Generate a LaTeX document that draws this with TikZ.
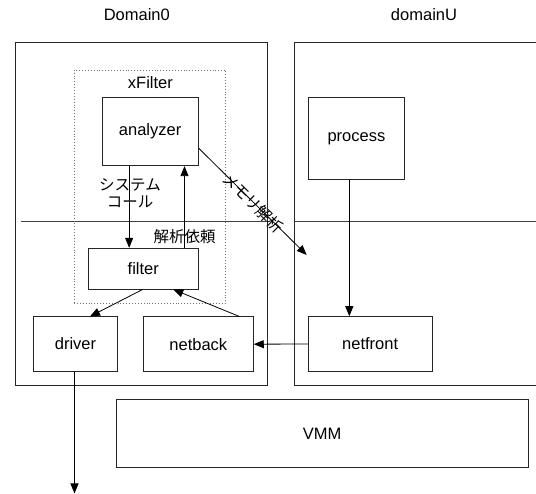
\documentclass[tikz,border=0pt]{standalone}
\usepackage{fontspec}
\setmainfont{Liberation Sans}
\newfontfamily\jp{Noto Sans CJK JP}
\usetikzlibrary{arrows.meta}
\tikzset{
  box/.style={draw=black!85, line width=0.9pt, inner sep=0pt, align=center,
    font=\fontsize{16.5}{18}\selectfont},
  dombox/.style={draw=black!85, line width=0.9pt, inner sep=0pt},
  xfbox/.style={draw=black!55, dotted, line width=0.9pt, inner sep=0pt},
  lbl/.style={inner sep=0pt, font=\fontsize{16.5}{18}\selectfont},
  jlbl/.style={inner sep=0pt, align=center, font=\jp\fontsize{15.5}{16.7}\selectfont},
  arr/.style={draw=black, line width=0.8pt, -{Triangle[length=10pt,width=8pt]}},
  hline/.style={draw=black!75, line width=0.9pt}
}
\begin{document}
\begin{tikzpicture}[x=1pt,y=-1pt]
\useasboundingbox (0,0) rectangle (536,494);
\fill[white] (0,0) rectangle (536,494);

% domains
\node[dombox, minimum width=252pt, minimum height=342.6pt] (dom0) at (141.3,214) {};
\node[dombox, minimum width=265.5pt, minimum height=342.6pt] (domU) at (427.25,214) {};
\node[lbl] (dom0lbl) at (136.8,15) {Domain0};
\node[lbl] (domUlbl) at (424,15) {domainU};

% separator line
\coordinate (hlA) at (20.5,221);
\coordinate (hlB) at (536,221);
\draw[hline] (hlA) -- (hlA -| dom0.east);
\draw[hline] (domU.west |- hlB) -- (hlB);

% xFilter
\node[xfbox, minimum width=151.7pt, minimum height=233.3pt] (xf) at (149.85,186.65) {};
\node[lbl] (xflbl) at (150.4,82.7) {xFilter};

% boxes
\node[box, minimum width=96.3pt, minimum height=68.4pt] (analyzer) at (150.15,131.5) {analyzer};
\node[box, minimum width=95.8pt, minimum height=82pt] (process) at (356.4,138.3) {process};
\node[box, minimum width=110.1pt, minimum height=40.7pt] (filter) at (143.25,268.65) {filter};
\node[box, minimum width=84.4pt, minimum height=54.4pt] (driver) at (75.5,344.1) {driver};
\node[box, minimum width=110pt, minimum height=54.6pt] (netback) at (198.3,344.2) {netback};
\node[box, minimum width=123.7pt, minimum height=54.6pt] (netfront) at (370.15,344) {netfront};
\node[box, minimum width=412.3pt, minimum height=68.3pt] (vmm) at (322.15,433.35) {VMM};

% labels
\node[jlbl] (syscall) at (130,193) {システム\\コール};
\node[jlbl] (req) at (184.5,237) {解析依頼};
\node[jlbl, rotate=-44.5] (mem) at (253,203) {メモリ解析};

% arrows
\draw[arr] ([xshift=-21pt]analyzer.south) -- ([xshift=-21pt]analyzer.south |- filter.north);
\draw[arr] ([xshift=41.25pt]filter.north) -- ([xshift=41.25pt]filter.north |- analyzer.south);
\coordinate (memtip) at (306.7,255);
\draw[arr] ([yshift=-16.8pt]analyzer.east) -- (memtip);
\draw[arr] ([xshift=-7.1pt]process.south) -- ([xshift=-7.1pt]process.south |- netfront.north);
\draw[arr] (netfront.west) -- (netback.east);
\draw[arr] ([xshift=41pt]netback.north) -- ([xshift=30pt]filter.south);
\draw[arr] ([xshift=-0.6pt]filter.south) -- ([xshift=14.5pt]driver.north);
\coordinate (out) at (74.5,493.5);
\draw[arr] (driver.south -| out) -- (out);
\end{tikzpicture}
\end{document}
